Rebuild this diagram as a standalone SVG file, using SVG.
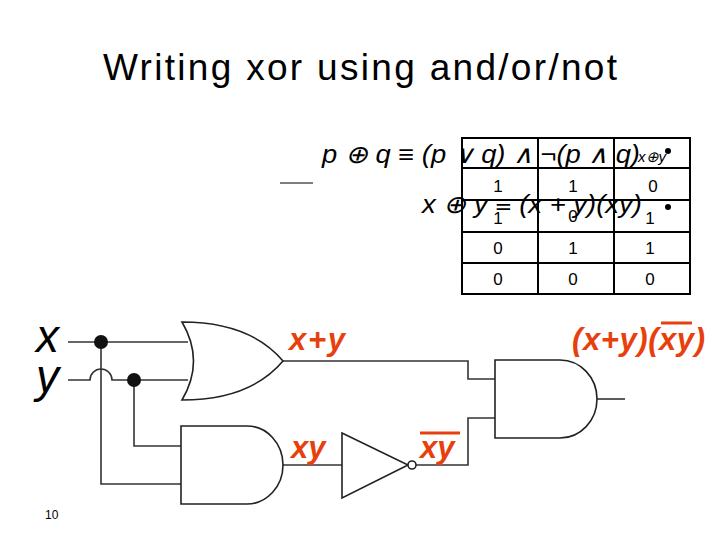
<svg xmlns="http://www.w3.org/2000/svg" width="720" height="540" viewBox="0 0 720 540">
<style>
.w{fill:none;stroke:#333;stroke-width:1.6}
.g{fill:#fff;stroke:#222;stroke-width:1.6}
.t{font-family:"Liberation Sans",Arial,sans-serif;fill:#000}
.r{font-family:"Liberation Sans",Arial,sans-serif;font-weight:bold;font-style:italic;fill:#e8400c;font-size:31px}
.d{font-family:"Liberation Sans",Arial,sans-serif;font-size:17px;text-anchor:middle}
</style>
<rect width="720" height="540" fill="#fff"/>
<text class="t" x="103" y="80" font-size="37" font-family="'Open Sans',sans-serif" textLength="514">Writing xor using and/or/not</text>
<line x1="280" y1="183" x2="313" y2="183" stroke="#000" stroke-width="1"/>
<g id="table" fill="none" stroke="#000" stroke-width="2">
<rect x="462" y="138" width="228" height="156"/>
<line x1="538" y1="138" x2="538" y2="294"/><line x1="614" y1="138" x2="614" y2="294"/>
<line x1="462" y1="168" x2="690" y2="168"/><line x1="462" y1="200" x2="690" y2="200"/>
<line x1="462" y1="232" x2="690" y2="232"/><line x1="462" y1="263" x2="690" y2="263"/>
</g>
<g class="d">
<text x="498" y="192">1</text><text x="573" y="192">1</text><text x="653" y="192">0</text>
<text x="498" y="224">1</text><text x="573" y="222">0</text><text x="650" y="224">1</text>
<text x="498" y="254">0</text><text x="573" y="254">1</text><text x="650" y="254">1</text>
<text x="498" y="285">0</text><text x="573" y="285">0</text><text x="650" y="285">0</text>
</g>
<text class="t" x="322" y="163" font-size="25" font-style="italic" textLength="318" lengthAdjust="spacingAndGlyphs">p ⊕ q ≡ (p ∨ q) ∧ ¬(p ∧ q)</text>
<text class="t" x="638" y="162" font-size="15" font-style="italic">x⊕y</text>
<circle cx="668" cy="151" r="3"/>
<text class="t" x="422" y="213" font-size="25" font-style="italic" textLength="220" lengthAdjust="spacingAndGlyphs">x ⊕ y ≡ (x + y)(xy)</text>
<circle cx="668" cy="207" r="3"/>
<text class="t" x="36" y="352" font-size="46" font-style="italic">x</text>
<text class="t" x="36" y="392" font-size="46" font-style="italic">y</text>
<g id="wires" class="w">
<path d="M68 342H188"/>
<path d="M68 380H90A11 11 0 0 1 112 380H188"/>
<path d="M101 342V484H181"/>
<path d="M134 380V446H181"/>
<path d="M283 361H468V379H495"/>
<path d="M283 465H342"/>
<path d="M416 465H468V418H495"/>
<path d="M597 399H625"/>
</g>
<g id="or1"><path class="g" d="M182 322Q205 361 182 400Q250 400 283 361Q250 322 182 322Z"/></g>
<g id="and1"><path class="g" d="M181 426H247A36 39 0 0 1 247 504H181Z"/></g>
<g id="not1"><path class="g" d="M342 433L408 465L342 498Z"/><circle class="g" cx="412" cy="465" r="4"/></g>
<g id="and2"><path class="g" d="M495 360H560A37 39 0 0 1 560 438H495Z"/></g>
<circle cx="101" cy="342" r="7" fill="#111"/>
<circle cx="134" cy="380" r="7" fill="#111"/>
<text class="r" x="289" y="350" textLength="56">x+y</text>
<text class="r" x="291" y="458">xy</text>
<text class="r" x="420" y="458">xy</text>
<line x1="420" y1="433" x2="460" y2="433" stroke="#e8400c" stroke-width="3"/>
<text class="r" x="572" y="350" textLength="133">(x+y)(xy)</text>
<line x1="661" y1="323" x2="692" y2="323" stroke="#e8400c" stroke-width="3"/>
<text class="t" x="45" y="519" font-size="12">10</text>
</svg>
